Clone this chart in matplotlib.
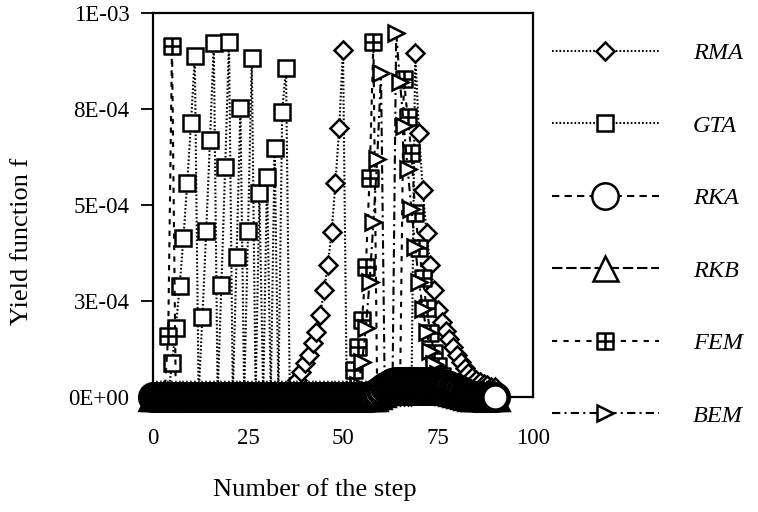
import numpy as np
import matplotlib
matplotlib.use("Agg")
import matplotlib.pyplot as plt
from matplotlib.path import Path

plt.rcParams['font.family'] = ['Liberation Serif', 'DejaVu Serif']

# pasos de carga 0..90
steps = list(range(91))

# funcion de fluencia f, en unidades de 1E-04
rma = [0, 0, 0, 0, 0, 0, 0, 0, 0, 0,
       0, 0, 0, 0, 0, 0, 0, 0, 0, 0,
       0, 0, 0, 0, 0, 0, 0, 0, 0, 0,
       0, 0, 0, 0.03, 0.06, 0.12, 0.20, 0.31, 0.44, 0.65,
       0.88, 1.09, 1.40, 1.69, 2.13, 2.78, 3.43, 4.29, 5.56, 7.01,
       9.04, 0.03, 0.03, 0.03, 0.03, 0.03, 0.03, 0.03, 0.03, 0.03,
       0.03, 0.03, 0.03, 0.03, 0.03, 0.03, 0.03, 0.03, 0.03, 8.96,
       6.88, 5.38, 4.26, 3.43, 2.78, 2.26, 1.95, 1.72, 1.50, 1.30,
       1.10, 0.90, 0.75, 0.62, 0.52, 0.44, 0.38, 0.33, 0.30, 0.27,
       0.26]

gta = [0.02, 0.02, 0.02, 0.02, 0.02, 0.88, 1.79, 2.88, 4.13, 5.56,
       7.14, 8.88, 0.02, 2.08, 4.31, 6.70, 9.22, 0.02, 2.91, 6.00,
       9.25, 0.02, 3.64, 7.53, 0.02, 4.31, 8.83, 0.02, 5.32, 0.02,
       5.74, 0.02, 6.49, 0.02, 7.43, 8.57, 0.02, 0.02, 0.02, 0.02,
       0.02, 0.02, 0.02, 0.02, 0.02, 0.02, 0.02, 0.02, 0.02, 0.02,
       0.02, 0.02, 0.02, 0.02, 0.02, 0.02, 0.02, 0.02, 0.02, 0.02,
       0.02, 0.02, 0.02, 0.02, 0.02, 0.02, 0.02, 0.02, 0.02, 0.02,
       0.02, 0.02, 0.02, 0.02, 0.02, 0.02, 0.02, 0.02, 0.02, 0.02,
       0.02, 0.02, 0.02, 0.02, 0.02, 0.02, 0.02, 0.02, 0.02, 0.02,
       0.02]

rka = [0, 0, 0, 0, 0, 0, 0, 0, 0, 0,
       0, 0, 0, 0, 0, 0, 0, 0, 0, 0,
       0, 0, 0, 0, 0, 0, 0, 0, 0, 0,
       0, 0, 0, 0, 0, 0, 0, 0, 0, 0,
       0, 0, 0, 0, 0, 0, 0, 0, 0, 0,
       0, 0, 0, 0, 0, 0, 0, 0, 0.05, 0.10,
       0.18, 0.26, 0.32, 0.36, 0.38, 0.40, 0.40, 0.40, 0.40, 0.39,
       0.39, 0.38, 0.38, 0.37, 0.36, 0.35, 0.34, 0.32, 0.28, 0.24,
       0.20, 0.15, 0.10, 0.06, 0.03, 0, 0, 0, 0, 0,
       0]

rkb = [0, 0, 0, 0, 0, 0, 0, 0, 0, 0,
       0, 0, 0, 0, 0, 0, 0, 0, 0, 0,
       0, 0, 0, 0, 0, 0, 0, 0, 0, 0,
       0, 0, 0, 0, 0, 0, 0, 0, 0, 0,
       0, 0, 0, 0, 0, 0, 0, 0, 0, 0,
       0, 0, 0, 0, 0, 0, 0, 0, 0, 0.05,
       0.10, 0.15, 0.20, 0.22, 0.24, 0.25, 0.25, 0.25, 0.25, 0.25,
       0.24, 0.24, 0.23, 0.23, 0.22, 0.21, 0.20, 0.18, 0.16, 0.13,
       0.10, 0.07, 0.04, 0.02, 0, 0, 0, 0, 0, 0,
       0]

fem = [0.02, 0.02, 0.02, 0.02, 1.60, 9.15, 0.02, 0.02, 0.02, 0.02,
       0.02, 0.02, 0.02, 0.02, 0.02, 0.02, 0.02, 0.02, 0.02, 0.02,
       0.02, 0.02, 0.02, 0.02, 0.02, 0.02, 0.02, 0.02, 0.02, 0.02,
       0.02, 0.02, 0.02, 0.02, 0.02, 0.02, 0.02, 0.02, 0.02, 0.02,
       0.02, 0.02, 0.02, 0.02, 0.02, 0.02, 0.02, 0.02, 0.02, 0.02,
       0.02, 0.02, 0.02, 0.70, 1.30, 2.00, 3.38, 5.71, 9.25, 0.05,
       0.05, 0.05, 0.05, 0.05, 0.05, 0.05, 8.29, 7.30, 6.36, 4.80,
       3.87, 3.09, 2.31, 1.66, 1.14, 0.80, 0.55, 0.38, 0.27, 0.19,
       0.13, 0.09, 0.06, 0.04, 0.04, 0.04, 0.04, 0.04, 0.04, 0.04,
       0.04]

bem = [0.02, 0.02, 0.02, 0.02, 0.02, 0.02, 0.02, 0.02, 0.02, 0.02,
       0.02, 0.02, 0.02, 0.02, 0.02, 0.02, 0.02, 0.02, 0.02, 0.02,
       0.02, 0.02, 0.02, 0.02, 0.02, 0.02, 0.02, 0.02, 0.02, 0.02,
       0.02, 0.02, 0.02, 0.02, 0.02, 0.02, 0.02, 0.02, 0.02, 0.02,
       0.02, 0.02, 0.02, 0.02, 0.02, 0.02, 0.02, 0.02, 0.02, 0.02,
       0.02, 0.02, 0.02, 0.02, 0.30, 0.90, 1.80, 3.00, 4.55, 6.20,
       8.44, 0.05, 0.05, 0.05, 9.48, 8.20, 7.06, 5.95, 4.90, 3.90,
       3.00, 2.30, 1.70, 1.20, 0.85, 0.60, 0.42, 0.30, 0.20, 0.14,
       0.10, 0.05, 0.05, 0.05, 0.05, 0.05, 0.05, 0.05, 0.05, 0.05,
       0.05]

yticks = [0, 2.5e-4, 5e-4, 7.5e-4, 1e-3]
ytick_labels = ['0E+00', '3E-04', '5E-04', '8E-04', '1E-03']
xticks = [0, 25, 50, 75, 100]

# cuadrado con cruz para FEM
verts_fem = [(-1, -1), (1, -1), (1, 1), (-1, 1), (-1, -1),
             (0, -1), (0, 1), (-1, 0), (1, 0)]
codes_fem = [Path.MOVETO, Path.LINETO, Path.LINETO, Path.LINETO, Path.CLOSEPOLY,
             Path.MOVETO, Path.LINETO, Path.MOVETO, Path.LINETO]
marca_fem = Path(verts_fem, codes_fem)

# nombre, datos, marcador, tamano, grosor del borde, estilo de linea, capa
series = [
    ('RMA', rma, 'D', 9.5, 1.8, (0, (0.8, 1.0)), 3),
    ('GTA', gta, 's', 11.5, 1.8, (0, (0.8, 1.0)), 4),
    ('RKA', rka, 'o', 19, 3.4, (0, (3.5, 2.5)), 8),
    ('RKB', rkb, '^', 18, 3.2, (0, (5, 1.8)), 7),
    ('FEM', fem, marca_fem, 11.5, 1.8, (0, (2.5, 3.0)), 5),
    ('BEM', bem, '>', 11.5, 1.8, (0, (4, 2, 1, 2)), 6),
]

fig = plt.figure(figsize=(7.58, 5.12), dpi=100)
ax = fig.add_axes([153 / 758, 1 - 397 / 512, 380 / 758, 384 / 512])

lineas = []
for nombre, valores, marca, tam, borde, estilo, capa in series:
    y = np.array(valores) * 1e-4
    ln, = ax.plot(steps, y, color='black', lw=1.5, linestyle=estilo,
                  marker=marca, markersize=tam, markerfacecolor='white',
                  markeredgecolor='black', markeredgewidth=borde,
                  label=nombre, clip_on=False, zorder=capa)
    lineas.append(ln)

ax.set_xlim(0, 100)
ax.set_ylim(0, 1e-3)
ax.set_xticks(xticks)
ax.set_yticks(yticks)
ax.set_yticklabels(ytick_labels)
ax.tick_params(axis='both', labelsize=16.5, direction='out', color='black')
ax.tick_params(axis='y', length=9, width=1.3, pad=8)
ax.tick_params(axis='x', length=0, pad=22)
for s in ax.spines.values():
    s.set_linewidth(1.6)

ax.set_xlabel('Number of the step', fontsize=19)
ax.xaxis.set_label_coords(0.426, -0.21)
ax.set_ylabel('Yield function f', fontsize=19)
ax.yaxis.set_label_coords(-0.315, 0.405)

leg = fig.legend(handles=lineas, loc='upper left',
                 bbox_to_anchor=(552 / 758, 1 - 42 / 512),
                 frameon=False, numpoints=1, handlelength=4.4, handletextpad=1.4,
                 labelspacing=2.08, borderpad=0, borderaxespad=0,
                 prop={'family': 'Liberation Serif', 'style': 'italic', 'size': 17.5})
# en la leyenda los bordes van finos
for h in leg.legend_handles:
    h.set_markeredgewidth(1.8)

fig.savefig('out.png', dpi=100)
